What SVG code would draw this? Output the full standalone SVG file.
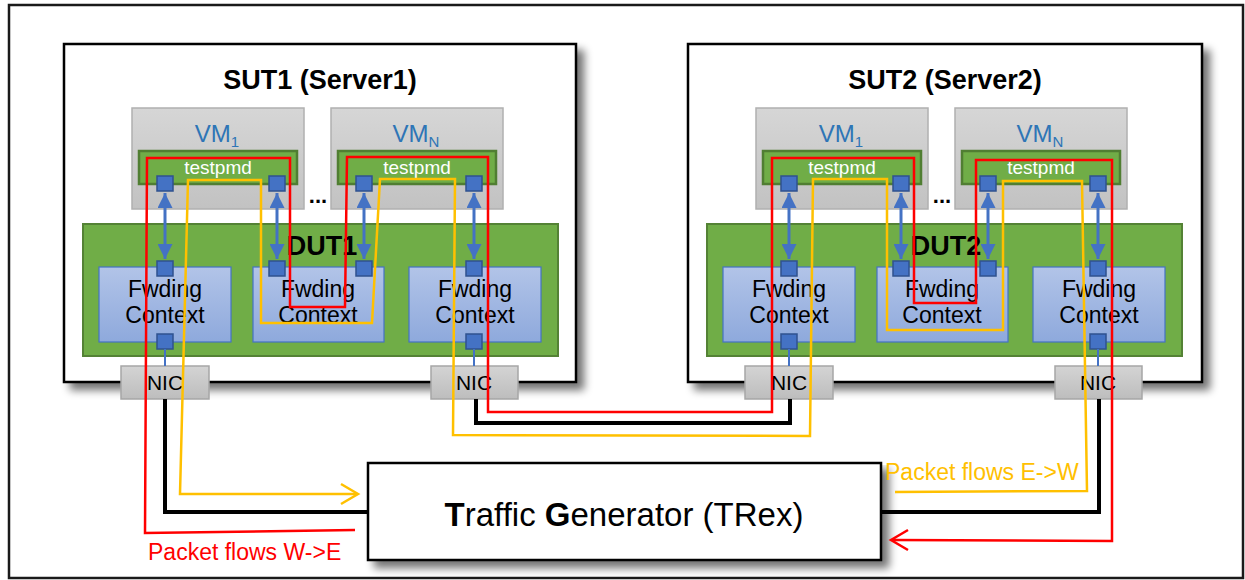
<svg xmlns="http://www.w3.org/2000/svg" width="1245" height="580" viewBox="0 0 1245 580">
<defs>
  <filter id="sh" x="-5%" y="-5%" width="115%" height="125%">
    <feGaussianBlur in="SourceAlpha" stdDeviation="4"/>
    <feOffset dx="7" dy="7" result="o"/>
    <feComponentTransfer><feFuncA type="linear" slope="0.55"/></feComponentTransfer>
    <feMerge><feMergeNode/><feMergeNode in="SourceGraphic"/></feMerge>
  </filter>
  <linearGradient id="gvm" x1="0" y1="0" x2="0" y2="1">
    <stop offset="0" stop-color="#d6d6d6"/><stop offset="1" stop-color="#c2c2c2"/>
  </linearGradient>
  <linearGradient id="gnic" x1="0" y1="0" x2="0" y2="1">
    <stop offset="0" stop-color="#d4d4d4"/><stop offset="1" stop-color="#bdbdbd"/>
  </linearGradient>
  <linearGradient id="gfw" x1="0" y1="0" x2="0" y2="1">
    <stop offset="0" stop-color="#b2c4e8"/><stop offset="1" stop-color="#8ea9dc"/>
  </linearGradient>
  <marker id="ab" viewBox="0 0 10 10" refX="10" refY="5" markerWidth="5" markerHeight="5" orient="auto-start-reverse" markerUnits="strokeWidth">
    <path d="M0,0 L10,5 L0,10 z" fill="#4472c4"/>
  </marker>
  <style>
    .sut{fill:#fff;stroke:#000;stroke-width:2.5}
    .vm{fill:url(#gvm);stroke:#b0b0b0;stroke-width:1.5}
    .tp{fill:#70ad47;stroke:#507e32;stroke-width:2.5}
    .dut{fill:#70ad47;stroke:#548235;stroke-width:2}
    .fw{fill:url(#gfw);stroke:#4472c4;stroke-width:1.2}
    .port{fill:#4472c4;stroke:#2f528f;stroke-width:1.5}
    .nic{fill:url(#gnic);stroke:#a6a6a6;stroke-width:1.5}
    .dbl{stroke:#4472c4;stroke-width:3;fill:none;marker-start:url(#ab);marker-end:url(#ab)}
    .pl{stroke:#4472c4;stroke-width:2;fill:none}
    .t{font-family:"Liberation Sans",Arial,sans-serif;text-anchor:middle}
    .title{font-size:27px;font-weight:bold;fill:#000}
    .vmt{font-size:24px;fill:#2e75b6}
    .tpt{font-size:19px;fill:#fff}
    .fwt{font-size:23px;fill:#000}
    .nict{font-size:21px;fill:#000}
    .dott{font-size:22px;font-weight:bold;fill:#000}
    .blk{stroke:#000;stroke-width:4;fill:none}
    .red{stroke:#ff0000;stroke-width:2.5;fill:none;stroke-linejoin:miter}
    .yel{stroke:#ffc000;stroke-width:2.5;fill:none;stroke-linejoin:miter}
  </style>
</defs>

<rect x="9" y="5" width="1234" height="573" fill="#fff" stroke="#1a1a1a" stroke-width="2.5"/>

<!-- SUT1 -->
<g id="sut1">
  <rect class="sut" x="64" y="44" width="512" height="338" filter="url(#sh)"/>
  <text class="t title" x="320" y="89">SUT1 (Server1)</text>
</g>
<g id="sut2">
  <rect class="sut" x="688" y="44" width="514" height="338" filter="url(#sh)"/>
  <text class="t title" x="945" y="89">SUT2 (Server2)</text>
</g>

<!-- VMs SUT1 -->
<g id="vm1-sut1">
  <rect class="vm" x="132" y="108" width="172" height="101"/>
  <text class="t vmt" x="217" y="142">VM<tspan font-size="15" dy="5">1</tspan></text>
  <rect class="tp" x="139" y="151" width="158" height="33"/>
  <text class="t tpt" x="218" y="174">testpmd</text>
  <rect class="port" x="157" y="176" width="16" height="15"/>
  <rect class="port" x="269" y="176" width="16" height="15"/>
</g>
<g id="vmn-sut1">
  <rect class="vm" x="331" y="108" width="172" height="101"/>
  <text class="t vmt" x="416" y="142">VM<tspan font-size="15" dy="5">N</tspan></text>
  <rect class="tp" x="338" y="151" width="158" height="33"/>
  <text class="t tpt" x="417" y="174">testpmd</text>
  <rect class="port" x="356" y="176" width="16" height="15"/>
  <rect class="port" x="466" y="176" width="16" height="15"/>
</g>
<text class="t dott" x="318" y="203">...</text>

<!-- VMs SUT2 -->
<g id="vm1-sut2" transform="translate(624,0)">
  <rect class="vm" x="132" y="108" width="172" height="101"/>
  <text class="t vmt" x="217" y="142">VM<tspan font-size="15" dy="5">1</tspan></text>
  <rect class="tp" x="139" y="151" width="158" height="33"/>
  <text class="t tpt" x="218" y="174">testpmd</text>
  <rect class="port" x="157" y="176" width="16" height="15"/>
  <rect class="port" x="269" y="176" width="16" height="15"/>
</g>
<g id="vmn-sut2" transform="translate(624,0)">
  <rect class="vm" x="331" y="108" width="172" height="101"/>
  <text class="t vmt" x="416" y="142">VM<tspan font-size="15" dy="5">N</tspan></text>
  <rect class="tp" x="338" y="151" width="158" height="33"/>
  <text class="t tpt" x="417" y="174">testpmd</text>
  <rect class="port" x="356" y="176" width="16" height="15"/>
  <rect class="port" x="466" y="176" width="16" height="15"/>
</g>
<text class="t dott" x="942" y="203">...</text>

<!-- DUT1 -->
<g id="dut1">
  <rect class="dut" x="83" y="224" width="475" height="132"/>
  <text class="t title" x="322" y="255">DUT1</text>
  <rect class="fw" x="99" y="267" width="132" height="75"/>
  <text class="t fwt" x="165" y="297">Fwding</text>
  <text class="t fwt" x="165" y="323">Context</text>
  <rect class="fw" x="253" y="267" width="131" height="75"/>
  <text class="t fwt" x="318" y="297">Fwding</text>
  <text class="t fwt" x="318" y="323">Context</text>
  <rect class="fw" x="409" y="267" width="132" height="75"/>
  <text class="t fwt" x="475" y="297">Fwding</text>
  <text class="t fwt" x="475" y="323">Context</text>
  <rect class="port" x="157" y="261" width="16" height="15"/>
  <rect class="port" x="269" y="261" width="16" height="15"/>
  <rect class="port" x="356" y="261" width="16" height="15"/>
  <rect class="port" x="466" y="261" width="16" height="15"/>
  <rect class="port" x="157" y="334" width="16" height="15"/>
  <rect class="port" x="466" y="334" width="16" height="15"/>
</g>
<g id="dut2" transform="translate(624,0)">
  <rect class="dut" x="83" y="224" width="475" height="132"/>
  <text class="t title" x="322" y="255">DUT2</text>
  <rect class="fw" x="99" y="267" width="132" height="75"/>
  <text class="t fwt" x="165" y="297">Fwding</text>
  <text class="t fwt" x="165" y="323">Context</text>
  <rect class="fw" x="253" y="267" width="131" height="75"/>
  <text class="t fwt" x="318" y="297">Fwding</text>
  <text class="t fwt" x="318" y="323">Context</text>
  <rect class="fw" x="409" y="267" width="132" height="75"/>
  <text class="t fwt" x="475" y="297">Fwding</text>
  <text class="t fwt" x="475" y="323">Context</text>
  <rect class="port" x="157" y="261" width="16" height="15"/>
  <rect class="port" x="269" y="261" width="16" height="15"/>
  <rect class="port" x="356" y="261" width="16" height="15"/>
  <rect class="port" x="466" y="261" width="16" height="15"/>
  <rect class="port" x="157" y="334" width="16" height="15"/>
  <rect class="port" x="466" y="334" width="16" height="15"/>
</g>

<!-- NICs -->
<g id="nic1-sut1"><rect class="nic" x="121" y="366" width="88" height="33"/><text class="t nict" x="165" y="390">NIC</text></g>
<g id="nic2-sut1"><rect class="nic" x="431" y="366" width="87" height="33"/><text class="t nict" x="474" y="390">NIC</text></g>
<g id="nic1-sut2"><rect class="nic" x="745" y="366" width="88" height="33"/><text class="t nict" x="789" y="390">NIC</text></g>
<g id="nic2-sut2"><rect class="nic" x="1055" y="366" width="87" height="33"/><text class="t nict" x="1098" y="390">NIC</text></g>

<!-- Traffic generator -->
<g id="trex">
  <rect x="368" y="463" width="513" height="97" fill="#fff" stroke="#000" stroke-width="2.5" filter="url(#sh)"/>
  <text class="t" x="624" y="526" font-size="33" fill="#000"><tspan font-weight="bold">T</tspan>raffic <tspan font-weight="bold">G</tspan>enerator (TRex)</text>
</g>

<!-- connectors -->
<g id="connectors">
  <line class="dbl" x1="165" y1="193" x2="165" y2="259"/>
  <line class="dbl" x1="277" y1="193" x2="277" y2="259"/>
  <line class="dbl" x1="364" y1="193" x2="364" y2="259"/>
  <line class="dbl" x1="474" y1="193" x2="474" y2="259"/>
  <line class="dbl" x1="789" y1="193" x2="789" y2="259"/>
  <line class="dbl" x1="901" y1="193" x2="901" y2="259"/>
  <line class="dbl" x1="988" y1="193" x2="988" y2="259"/>
  <line class="dbl" x1="1098" y1="193" x2="1098" y2="259"/>
  <line class="pl" x1="165" y1="349" x2="165" y2="366"/>
  <line class="pl" x1="474" y1="349" x2="474" y2="366"/>
  <line class="pl" x1="789" y1="349" x2="789" y2="366"/>
  <line class="pl" x1="1098" y1="349" x2="1098" y2="366"/>

  <path class="blk" d="M165,399 L165,512 L368,512"/>
  <path class="blk" d="M476,399 L476,423 L790,423 L790,399"/>
  <path class="blk" d="M1099,399 L1099,512 L881,512"/>

  <path class="red" d="M355,530 L145,533 L147,158 L290,158 L290,307 L345,307 L347,157 L488,157 L488,412 L772,412 L772,158 L914,158 L914,303 L976,303 L976,160 L1112,160 L1112,541 L892,540"/>
  <path class="red" d="M908,530 L891,540 L908,550"/>

  <path class="yel" d="M895,492 L1087,491 L1082,181 L1003,181 L1003,330 L887,330 L887,179 L813,179 L810,436 L453,435 L455,179 L380,179 L372,323 L261,323 L261,180 L188,180 L180,494 L357,494"/>
  <path class="yel" d="M341,484 L358,494 L341,504"/>
</g>

<text font-family="Liberation Sans,Arial,sans-serif" font-size="23" fill="#ff0000" x="148" y="560">Packet flows W-&gt;E</text>
<text font-family="Liberation Sans,Arial,sans-serif" font-size="23" fill="#ffc000" x="885" y="480">Packet flows E-&gt;W</text>
</svg>
